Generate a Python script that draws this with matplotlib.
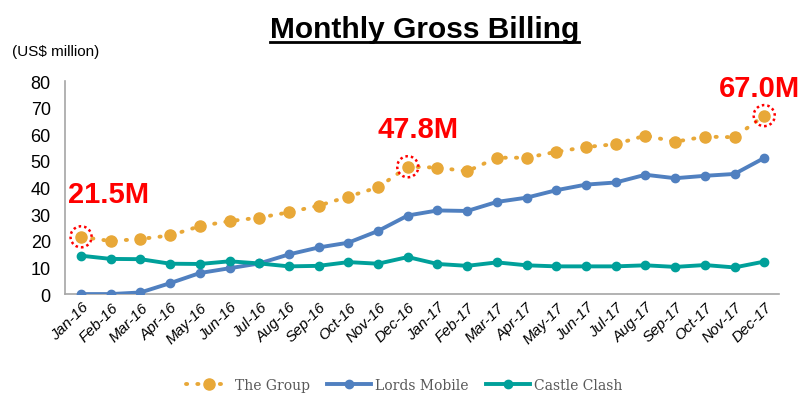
import matplotlib
matplotlib.use("Agg")
import matplotlib.pyplot as plt
import numpy as np

months = ["Jan-16", "Feb-16", "Mar-16", "Apr-16", "May-16", "Jun-16", "Jul-16", "Aug-16",
          "Sep-16", "Oct-16", "Nov-16", "Dec-16", "Jan-17", "Feb-17", "Mar-17", "Apr-17",
          "May-17", "Jun-17", "Jul-17", "Aug-17", "Sep-17", "Oct-17", "Nov-17", "Dec-17"]
the_group = [21.5, 19.9, 20.7, 22.0, 25.5, 27.4, 28.7, 30.7, 33.2, 36.6, 40.1, 47.8,
             47.5, 46.1, 51.2, 51.2, 53.4, 55.2, 56.3, 59.5, 57.2, 59.1, 58.9, 67.0]
lords_mobile = [0.0, 0.0, 0.6, 4.1, 7.9, 9.7, 11.5, 14.9, 17.5, 19.3, 23.7, 29.5,
                31.4, 31.2, 34.6, 36.2, 39.0, 41.1, 41.9, 44.8, 43.5, 44.4, 45.1, 51.1]
castle_clash = [14.4, 13.2, 13.1, 11.4, 11.3, 12.3, 11.5, 10.4, 10.6, 12.0, 11.4, 13.9,
                11.3, 10.6, 11.9, 10.8, 10.4, 10.4, 10.4, 10.8, 10.2, 10.9, 10.0, 12.2]
highlights = [0, 11, 23]
highlight_labels = ["21.5M", "47.8M", "67.0M"]

GOLD = "#E8A838"
BLUE = "#5080C0"
TEAL = "#00A09A"
RED = "#FF0000"

plt.rcParams["font.family"] = ["Liberation Sans", "DejaVu Sans"]

fig = plt.figure(figsize=(8.09, 4.02), dpi=100)
ax = fig.add_axes([0.080, 0.266, 0.883, 0.530])

x = np.arange(len(months))
ax.plot(x, the_group, color=GOLD, lw=2.8, linestyle=(0, (0.3, 2.6)), dash_capstyle="round",
        marker="o", markersize=8, label="The Group", zorder=3)
ax.plot(x, lords_mobile, color=BLUE, lw=2.8, marker="o", markersize=6,
        label="Lords Mobile", zorder=3)
ax.plot(x, castle_clash, color=TEAL, lw=2.8, marker="o", markersize=6,
        label="Castle Clash", zorder=3)

hx = [x[i] for i in highlights]
hy = [the_group[i] for i in highlights]
ax.scatter(hx, hy, s=230, facecolors="none", edgecolors=RED, linewidths=1.8,
           linestyle=(0, (1, 1.2)), zorder=4)

offsets = [(-0.45, 16, "left"), (0.35, 14, "center"), (1.2, 10.5, "right")]
for (dx, dy, ha), i, lab in zip(offsets, highlights, highlight_labels):
    ax.text(x[i] + dx, the_group[i] + dy, lab, color=RED, fontsize=21, fontweight="bold",
            ha=ha, va="center", clip_on=False)

ax.set_xlim(-0.55, len(months) - 0.5)
ax.set_ylim(0, 80)
ax.set_yticks(range(0, 81, 10))
ax.set_xticks(x)
ax.set_xticklabels(months, rotation=45, ha="right", rotation_mode="anchor",
                   fontsize=11, style="italic")
ax.tick_params(axis="y", labelsize=13, length=0, pad=10)
ax.tick_params(axis="x", length=0, pad=4)
for s in ["top", "right"]:
    ax.spines[s].set_visible(False)
for s in ["left", "bottom"]:
    ax.spines[s].set_color("#A6A6A6")
    ax.spines[s].set_linewidth(1.2)

fig.text(0.525, 0.925, "Monthly Gross Billing", ha="center", va="center",
         fontsize=21.5, fontweight="bold")
fig.canvas.draw()
t = fig.texts[0]
bb = t.get_window_extent()
inv = fig.transFigure.inverted()
(x0, y0), (x1, _) = inv.transform([[bb.x0, bb.y0], [bb.x1, bb.y1]])
fig.add_artist(plt.Line2D([x0, x1], [y0 + 0.004, y0 + 0.004], color="black", lw=2,
                          transform=fig.transFigure))

fig.text(0.015, 0.87, "(US$ million)", ha="left", va="center", fontsize=11)

leg = fig.legend(loc="center", bbox_to_anchor=(0.50, 0.04), ncol=3, frameon=False,
                 prop={"family": "DejaVu Serif", "size": 10}, handlelength=3.2,
                 columnspacing=1.2, handletextpad=0.3)
for txt in leg.get_texts():
    txt.set_color("#595959")

fig.savefig("out.png", dpi=100)
